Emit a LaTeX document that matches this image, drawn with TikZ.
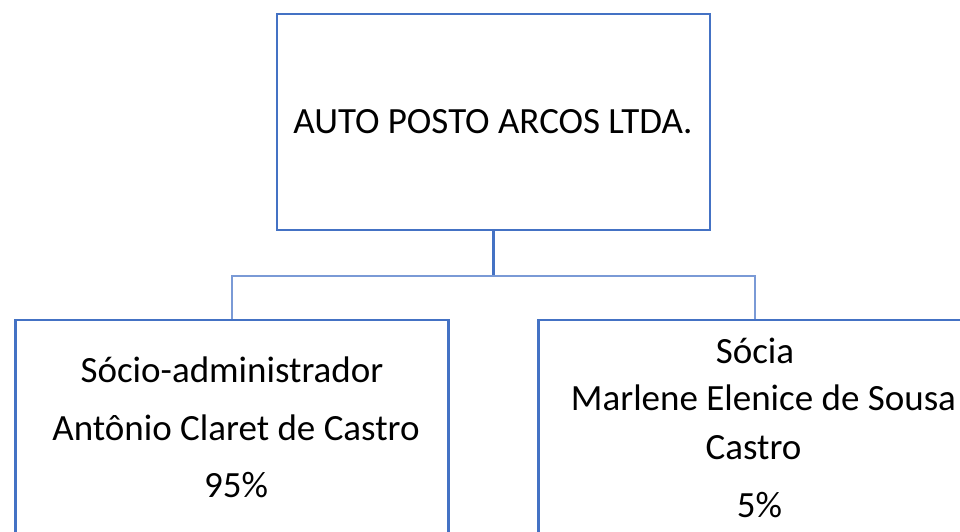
\documentclass[tikz,border=0pt]{standalone}
\usepackage{fontspec}
\setmainfont{Carlito}
\definecolor{obl}{HTML}{4472C4}
\definecolor{obl2}{HTML}{7A9AD6}
\tikzset{
  orgbox/.style={draw=obl, line width=2.8pt, fill=white, inner sep=0pt, minimum width=433pt, minimum height=216pt},
  lbl/.style={anchor=base, inner sep=0pt, font=\fontsize{37}{40}\selectfont},
  toplbl/.style={anchor=base, inner sep=0pt, font=\fontsize{37}{40}\selectfont},
  vline/.style={draw=obl, line width=2.2pt},
  hline/.style={draw=obl2, line width=1.5pt}
}
\begin{document}
\begin{tikzpicture}[x=1pt,y=1pt]
\useasboundingbox (0,0) rectangle (960,-532);
\clip (0,0) rectangle (960,-532);
\fill[white] (0,0) rectangle (960,-532);
\node[orgbox] (top) at (493.5,-122) {};
\node[orgbox] (left) at (232,-428) {};
\node[orgbox] (right) at (755,-428) {};
\coordinate (bus) at (493.5,-276);
\draw[vline] (top.south) -- (bus);
\draw[hline] (bus) -| (left.north);
\draw[hline] (bus) -| (right.north);
\node[toplbl] (t1) at (493,-133) {AUTO POSTO ARCOS LTDA.};
\node[lbl] (l1) at (232,-382) {Sócio-administrador};
\node[lbl] (l2) at (236,-440) {Antônio Claret de Castro};
\node[lbl] (l3) at (236,-497) {95\%};
\node[lbl] (r1) at (755,-363) {Sócia};
\node[lbl] (r2) at (763.5,-410) {Marlene Elenice de Sousa};
\node[lbl] (r3) at (753.5,-459) {Castro};
\node[lbl] (r4) at (759.5,-517) {5\%};
\end{tikzpicture}
\end{document}
